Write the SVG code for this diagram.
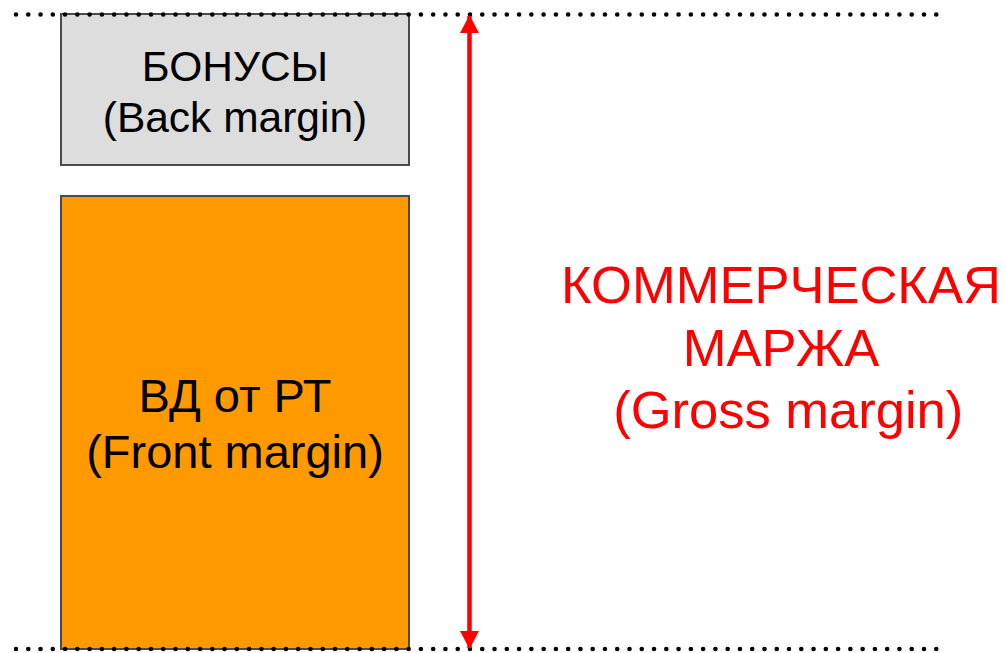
<svg xmlns="http://www.w3.org/2000/svg" width="1006" height="653" viewBox="0 0 1006 653">
  <style>
    .box { stroke: #4a4a4a; stroke-width: 2; }
    .label { font-family: "Liberation Sans", Arial, sans-serif; text-anchor: middle; fill: #000000; }
    .red { fill: #ff0000; font-size: 52.5px; }
    .dots { stroke: #000000; stroke-width: 4.6; stroke-linecap: round; stroke-dasharray: 0 12.27; fill: none; }
  </style>
  <defs>
    <marker id="head" viewBox="0 0 18 19" refX="17" refY="9.5" markerWidth="18" markerHeight="19" markerUnits="userSpaceOnUse" orient="auto-start-reverse">
      <path d="M0,0 L18,9.5 L0,19 Z" fill="#ff0000"/>
    </marker>
  </defs>
  <rect width="1006" height="653" fill="#ffffff"/>

  <g id="bonus">
    <rect class="box" x="61" y="14" width="348" height="151" fill="#dddddd"/>
    <text class="label" x="235" y="81" font-size="42.5">БОНУСЫ</text>
    <text class="label" x="235" y="132" font-size="42.5">(Back margin)</text>
  </g>

  <g id="front">
    <rect class="box" x="61" y="196" width="348" height="453" fill="#ff9900"/>
    <text class="label" x="235" y="412" font-size="47">ВД от РТ</text>
    <text class="label" x="235" y="468" font-size="47">(Front margin)</text>
  </g>

  <g id="gross">
    <text class="label red" x="781" y="303">КОММЕРЧЕСКАЯ</text>
    <text class="label red" x="781" y="366">МАРЖА</text>
    <text class="label red" x="781" y="428" xml:space="preserve"> (Gross margin)</text>
  </g>

  <g id="connectors">
    <line class="dots" x1="16" y1="14.5" x2="940" y2="14.5"/>
    <line class="dots" x1="16" y1="649" x2="940" y2="649"/>
    <line x1="469.5" y1="16" x2="469.5" y2="648" stroke="#ff0000" stroke-width="4.5" marker-start="url(#head)" marker-end="url(#head)"/>
  </g>
</svg>
